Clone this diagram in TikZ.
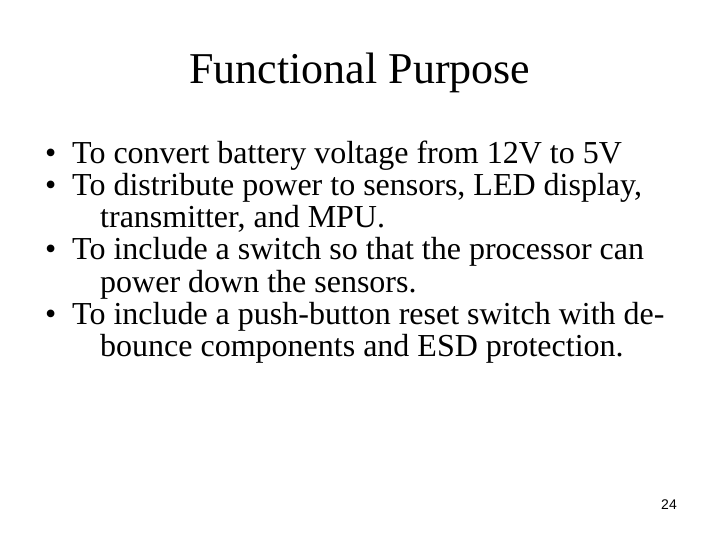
\documentclass[tikz,border=0pt]{standalone}
\usepackage{fontspec}
\setmainfont{Liberation Serif}
\newfontfamily\pnum{Liberation Sans}
\begin{document}
\begin{tikzpicture}[x=1bp,y=-1bp,
  body/.style={anchor=base west,inner sep=0pt,font=\fontsize{32bp}{36bp}\selectfont},
  bul/.style={anchor=base west,inner sep=0pt,font=\fontsize{32bp}{36bp}\selectfont}]
\useasboundingbox[fill=white] (0,0) rectangle (720,540);
\node[anchor=base,inner sep=0pt,font=\fontsize{44bp}{48bp}\selectfont] (title) at (360,84) {Functional Purpose};
\node[bul] (b1) at (45,164) {•};
\node[body] (t1) at (72,164) {To convert battery voltage from 12V to 5V};
\node[bul] (b2) at (45,196) {•};
\node[body] (t2) at (72,196) {To distribute power to sensors, LED display,};
\node[body] (t2b) at (100,228) {transmitter, and MPU.};
\node[bul] (b3) at (45,260) {•};
\node[body] (t3) at (72,260) {To include a switch so that the processor can};
\node[body] (t3b) at (100,292) {power down the sensors.};
\node[bul] (b4) at (45,324) {•};
\node[body] (t4) at (72,324) {To include a push-button reset switch with de-};
\node[body] (t4b) at (100,356) {bounce components and ESD protection.};
\node[anchor=base,inner sep=0pt,font=\pnum\fontsize{14bp}{16bp}\selectfont] (pg) at (669,509) {24};
\end{tikzpicture}
\end{document}
